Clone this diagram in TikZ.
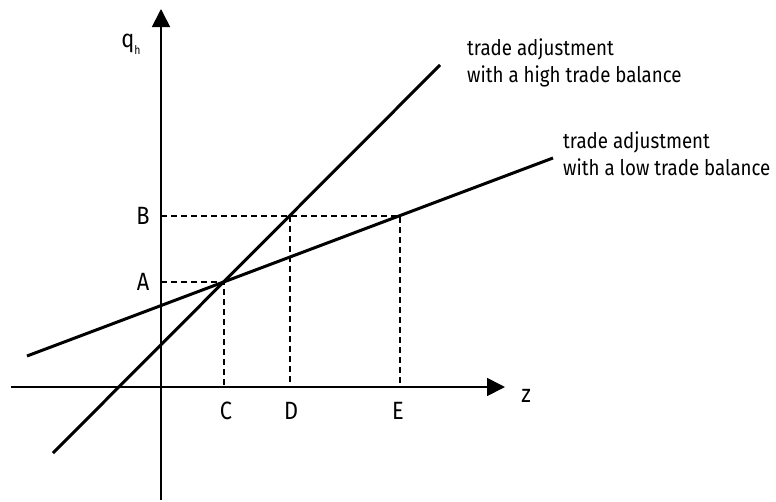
\documentclass[tikz,border=0pt]{standalone}
\usepackage{fontspec}
\setmainfont[FakeStretch=0.87]{Fira Sans}
\usetikzlibrary{arrows.meta}
\begin{document}
\begin{tikzpicture}[x=1pt,y=-1pt,
  axis/.style={line width=1.7pt},
  curve/.style={line width=3pt},
  guide/.style={line width=1.3pt, dash pattern=on 6pt off 4pt},
  tip/.style={-{Triangle[length=18pt,width=18pt]}},
  lab/.style={inner sep=0pt, font=\fontsize{25}{28}\selectfont},
  txt/.style={inner sep=0pt, anchor=north west, align=left, font=\fontsize{21.5}{27}\selectfont}]
\useasboundingbox (0,0) rectangle (776,501);
% points
\coordinate (O) at (161,387);
\coordinate (ybot) at (161,500);
\coordinate (ytop) at (161,9);
\coordinate (xleft) at (11,387);
\coordinate (xright) at (505,387);
\coordinate (P1) at (224,282);
\coordinate (P2) at (290,216);
\coordinate (P3) at (400,216);
\coordinate (hs) at (53,453);
\coordinate (he) at (440,65);
\coordinate (ls) at (27,356);
\coordinate (le) at (553,158);
\coordinate (yA) at (161,282);
\coordinate (yB) at (161,216);
\coordinate (xC) at (224,387);
\coordinate (xD) at (290,387);
\coordinate (xE) at (400,387);
% axes
\draw[axis,tip] (ybot) -- (ytop);
\draw[axis,tip] (xleft) -- (xright);
% guides
\draw[guide] (yA) -- (P1) -- (xC);
\draw[guide] (yB) -- (P3) -- (xE);
\draw[guide] (P2) -- (xD);
% lines
\draw[curve] (hs) -- (he);
\draw[curve] (ls) -- (le);
% labels
\node[lab] (qh) at (131,44) {q\raisebox{-0.5ex}{\fontsize{12}{12}\selectfont h}};
\node[lab] (z) at (526,396) {z};
\node[lab] (A) at (143,282) {A};
\node[lab] (B) at (143,216) {B};
\node[lab] (C) at (226,411) {C};
\node[lab] (D) at (291,411) {D};
\node[lab] (E) at (398,411) {E};
\node[txt] (high) at (467,39) {trade adjustment\\with a high trade balance};
\node[txt] (low) at (563,132) {trade adjustment\\with a low trade balance};
\end{tikzpicture}
\end{document}
